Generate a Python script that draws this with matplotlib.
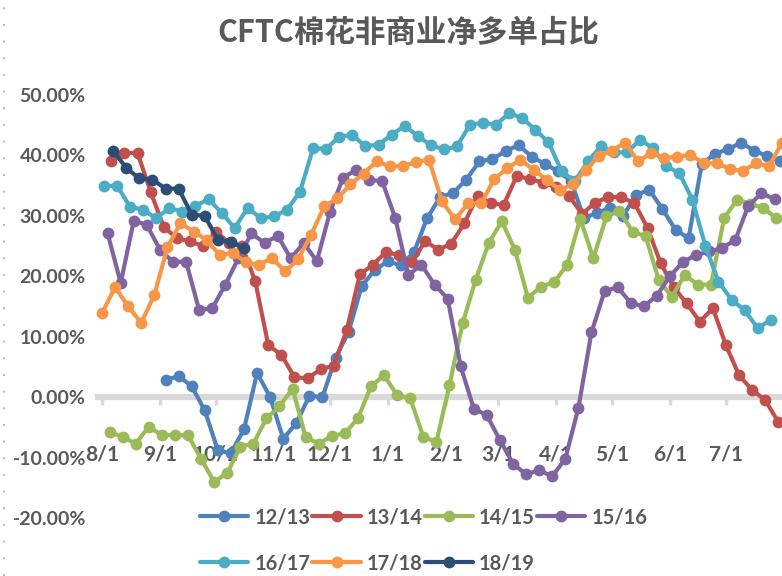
import matplotlib
matplotlib.use("Agg")
import matplotlib.pyplot as plt
import numpy as np
from matplotlib.lines import Line2D

# weekly non-commercial net long ratio (%), first report day counted from Aug 1
seasons = ["12/13", "13/14", "14/15", "15/16", "16/17", "17/18", "18/19"]
start_days = [34, 5, 4, 3, 1, 0, 6]
colors = ["#4F81BD", "#C0504D", "#9BBB59", "#8064A2", "#4BACC6", "#F79646", "#2C4D75"]

s1213 = [2.8, 3.5, 1.8, -2.2, -8.8, -9.3, -5.3, 4.0, 0.0, -6.9,
         -4.3, 0.2, 0.0, 6.5, 10.8, 18.4, 21.0, 22.5, 21.8, 24.0,
         29.6, 33.1, 33.8, 36.0, 39.0, 39.4, 40.7, 41.7, 39.8, 38.6,
         37.4, 35.8, 29.6, 30.5, 31.3, 30.0, 33.5, 34.3, 31.1, 27.7,
         26.3, 38.5, 40.3, 41.0, 42.1, 40.8, 39.9, 39.0]
s1314 = [39.0, 40.4, 40.4, 34.0, 28.2, 26.3, 25.8, 25.0, 27.4, 25.5,
         25.0, 19.2, 8.6, 7.0, 3.3, 3.1, 4.6, 5.2, 11.1, 20.3,
         21.9, 24.0, 23.5, 22.4, 25.8, 24.4, 25.4, 28.8, 33.3, 32.1,
         31.8, 36.6, 36.1, 35.5, 34.8, 33.3, 30.3, 32.2, 33.1, 33.1,
         32.1, 28.0, 22.2, 18.2, 15.5, 12.5, 14.7, 8.6, 3.6, 1.2,
         -0.5, -4.1]
s1415 = [-5.8, -6.6, -7.7, -4.9, -6.3, -6.3, -6.3, -10.2, -14.0, -12.6,
         -8.2, -7.7, -3.5, -1.5, 1.4, -6.6, -7.7, -6.4, -6.0, -3.5,
         1.8, 3.6, 0.3, -0.2, -6.6, -7.4, 2.0, 12.2, 19.4, 25.5,
         29.1, 24.4, 16.4, 18.3, 19.0, 21.9, 29.5, 23.0, 29.9, 30.8,
         27.4, 26.6, 19.4, 16.6, 20.2, 18.6, 18.6, 29.6, 32.7, 32.0,
         31.3, 29.6]
s1516 = [27.1, 18.9, 29.2, 28.5, 24.4, 22.4, 22.4, 14.4, 14.7, 18.6,
         23.0, 27.1, 25.5, 26.7, 23.0, 25.5, 22.5, 30.6, 36.3, 37.6,
         36.0, 35.7, 29.6, 20.2, 21.9, 18.6, 16.3, 5.1, -1.9, -3.0,
         -7.1, -11.0, -12.8, -12.1, -13.1, -10.2, -1.8, 10.7, 17.5, 18.2,
         15.6, 15.0, 16.8, 20.0, 22.4, 23.5, 24.1, 24.7, 26.0, 31.7,
         33.7, 32.8]
s1617 = [34.9, 35.0, 31.5, 31.0, 29.6, 31.3, 30.7, 31.6, 32.8, 30.5,
         28.0, 31.3, 29.6, 29.9, 31.0, 34.0, 41.2, 41.1, 43.1, 43.4,
         41.5, 41.8, 43.4, 44.9, 43.2, 41.7, 41.0, 41.5, 45.1, 45.4,
         45.1, 47.0, 46.2, 44.2, 42.2, 37.4, 35.7, 39.0, 41.5, 40.5,
         40.5, 42.6, 41.2, 38.2, 37.1, 32.7, 25.0, 19.1, 16.1, 14.4,
         11.4, 12.8]
s1718 = [13.9, 18.2, 15.0, 12.3, 16.9, 24.8, 28.8, 27.4, 26.0, 23.5,
         23.9, 22.3, 21.9, 23.0, 20.8, 22.8, 26.9, 31.6, 32.9, 35.2,
         37.0, 39.0, 38.2, 38.2, 38.9, 39.3, 32.4, 29.4, 32.1, 32.1,
         36.1, 37.9, 39.3, 37.6, 36.0, 34.3, 35.2, 37.6, 39.9, 40.8,
         42.1, 39.0, 40.4, 39.6, 39.8, 40.1, 38.7, 38.7, 37.8, 37.4,
         38.7, 38.2, 42.1]
s1819 = [40.8, 37.9, 36.2, 36.0, 34.5, 34.5, 30.2, 30.0, 26.0, 25.7, 24.7]

month_days = [0, 31, 61, 92, 122, 153, 184, 212, 243, 273, 304, 334]
month_labels = ["8/1", "9/1", "10/1", "11/1", "12/1", "1/1", "2/1", "3/1",
                "4/1", "5/1", "6/1", "7/1"]
y_ticks = [-20, -10, 0, 10, 20, 30, 40, 50]

gray = "#595959"
tick_font = "Lato"

fig = plt.figure(figsize=(7.82, 5.76), dpi=100)
ax = fig.add_axes([0.1257, 0.1007, 0.8743, 0.7344])

all_series = [s1213, s1314, s1415, s1516, s1617, s1718, s1819]
handles = []
for name, d0, c, vals in zip(seasons, start_days, colors, all_series):
    x = d0 + 7 * np.arange(len(vals))
    ln, = ax.plot(x, vals, color=c, lw=3, marker="o", ms=8.5,
                  markeredgewidth=0, clip_on=False, label=name,
                  solid_capstyle="round", solid_joinstyle="round")
    handles.append(ln)

ax.set_xlim(-2, 364)
ax.set_ylim(-20, 50)

for s in ["top", "right", "left"]:
    ax.spines[s].set_visible(False)
ax.spines["bottom"].set_position(("data", 0))
ax.spines["bottom"].set_color("#D9D9D9")
ax.spines["bottom"].set_linewidth(4.5)
ax.spines["bottom"].set_zorder(0.5)

ax.set_xticks(month_days)
ax.set_xticklabels(month_labels)
ax.set_yticks(y_ticks)
ax.set_yticklabels([f"{v:.2f}%" for v in y_ticks])
ax.tick_params(axis="x", direction="out", length=6, width=2.5, color="#D9D9D9",
               pad=28, labelsize=15, labelcolor=gray)
ax.tick_params(axis="y", length=0, pad=9, labelsize=14, labelcolor=gray)
for lab in ax.get_xticklabels() + ax.get_yticklabels():
    lab.set_fontfamily(tick_font)
    lab.set_fontweight("bold")

# legend: row-major order for 4 columns
order = [0, 4, 1, 5, 2, 6, 3]
leg = fig.legend([handles[i] for i in order], [seasons[i] for i in order],
                 ncol=4, loc="upper left", bbox_to_anchor=(200 / 782, 1 - 507 / 576),
                 frameon=False, numpoints=1, handlelength=2.4, handletextpad=0.3,
                 columnspacing=0.1, labelspacing=1.3, borderpad=0, borderaxespad=0,
                 prop={"family": tick_font, "weight": "bold", "size": 14.5})
for t in leg.get_texts():
    t.set_color(gray)

fig.text(408 / 782, 1 - 33 / 576, "CFTC棉花非商业净多单占比", ha="center", va="center",
         fontsize=22, fontweight="bold", color=gray,
         family=["Noto Sans CJK SC", "DejaVu Sans"])

fig.add_artist(Line2D([4 / 782, 4 / 782], [0, 1], transform=fig.transFigure,
                      color="#BFBFBF", lw=1.5, linestyle=(0, (1, 7))))

fig.savefig("out.png", dpi=100)
